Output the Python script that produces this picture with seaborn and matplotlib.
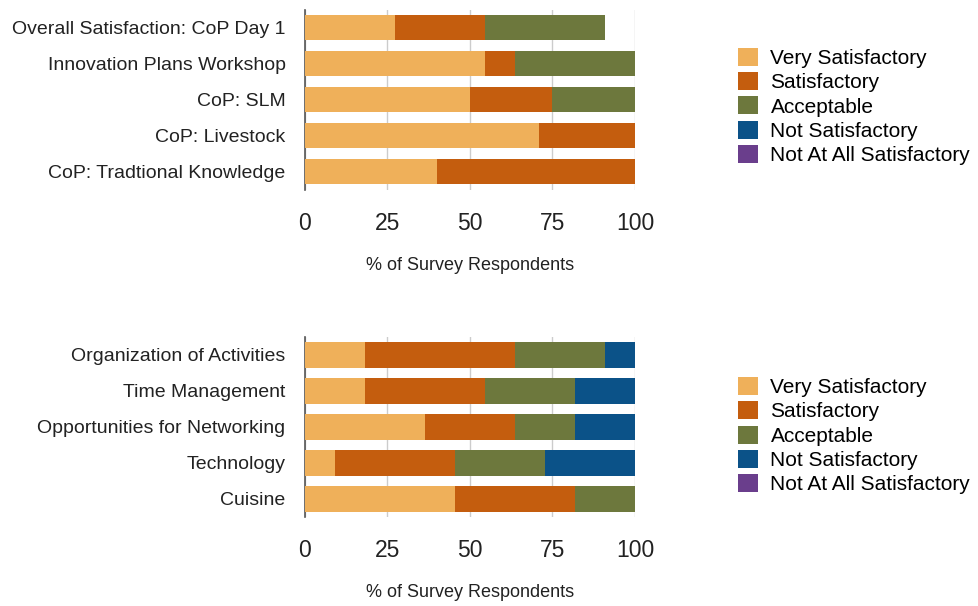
import numpy as np
import pandas as pd
import matplotlib
matplotlib.use("Agg")
import matplotlib.pyplot as plt
import seaborn as sns
from matplotlib.patches import Patch

# data (% of respondents)
levels = ["Very Satisfactory", "Satisfactory", "Acceptable",
          "Not Satisfactory", "Not At All Satisfactory"]
colors = ["#EFB05A", "#C45D0E", "#6D783D", "#0B5288", "#6A3E8C"]

top_labels = ["Overall Satisfaction: CoP Day 1", "Innovation Plans Workshop",
              "CoP: SLM", "CoP: Livestock", "CoP: Tradtional Knowledge"]
top_very = [27.3, 54.5, 50.0, 71.0, 40.0]
top_sat = [27.3, 9.1, 25.0, 29.0, 60.0]
top_acc = [36.4, 36.4, 25.0, 0, 0]
top_not = [0, 0, 0, 0, 0]
top_none = [0, 0, 0, 0, 0]

bot_labels = ["Organization of Activities", "Time Management",
              "Opportunities for Networking", "Technology", "Cuisine"]
bot_very = [18.2, 18.2, 36.4, 9.1, 45.5]
bot_sat = [45.5, 36.4, 27.3, 36.4, 36.4]
bot_acc = [27.3, 27.3, 18.2, 27.3, 18.1]
bot_not = [9.1, 18.1, 18.1, 27.2, 0]
bot_none = [0, 0, 0, 0, 0]

plt.rcParams['font.family'] = ['Liberation Sans', 'DejaVu Sans']

fig = plt.figure(figsize=(9.79, 6.06), dpi=100)
ax1 = fig.add_axes([0.3115, 0.687, 0.337, 0.297])
ax2 = fig.add_axes([0.3115, 0.147, 0.337, 0.297])


def stacked(ax, labels, series):
    df = pd.DataFrame(dict(zip(levels, series)), index=labels)
    cum = df.cumsum(axis=1)
    # draw from the outermost cumulative segment inwards
    for lvl, col in reversed(list(zip(levels, colors))):
        sns.barplot(x=cum[lvl].values, y=labels, color=col, orient="h",
                    width=0.7, ax=ax, saturation=1, zorder=3)
    ax.set_xlim(0, 100)
    ax.set_ylim(4.5, -0.5)
    ax.set_xticks([0, 25, 50, 75, 100])
    ax.tick_params(axis="x", labelsize=16.5, length=0, pad=16, colors="#222222")
    ax.tick_params(axis="y", labelsize=14, length=0, pad=14, colors="#222222")
    ax.grid(axis="x", color="#cccccc", linewidth=1, zorder=0)
    ax.set_axisbelow(True)
    for s in ["top", "right", "bottom"]:
        ax.spines[s].set_visible(False)
    ax.spines["left"].set_color("#555555")
    ax.spines["left"].set_linewidth(1.2)
    ax.set_xlabel("% of Survey Respondents", fontsize=13, labelpad=16, color="#222222")
    ax.set_ylabel("")


stacked(ax1, top_labels, [top_very, top_sat, top_acc, top_not, top_none])
stacked(ax2, bot_labels, [bot_very, bot_sat, bot_acc, bot_not, bot_none])

handles = [Patch(facecolor=c, edgecolor="none", label=l) for l, c in zip(levels, colors)]
for y in [0.921, 0.378]:
    fig.legend(handles=handles, loc="upper left", bbox_to_anchor=(0.754, y),
               frameon=False, fontsize=15, handlelength=0.95, handleheight=0.95,
               handletextpad=0.6, labelspacing=0.2, borderpad=0, borderaxespad=0)

plt.savefig("out.png", dpi=100)
